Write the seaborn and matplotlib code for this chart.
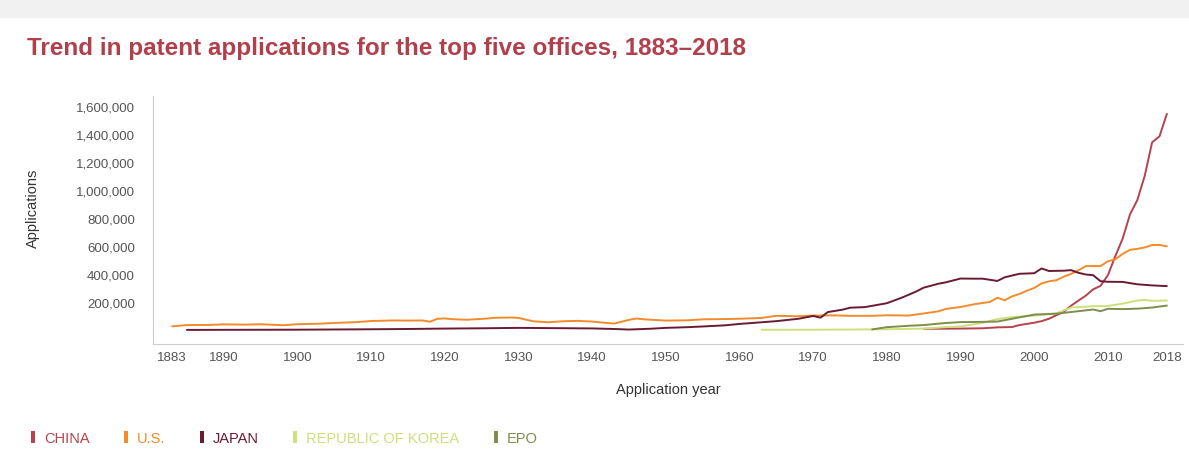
import matplotlib
matplotlib.use("Agg")
import matplotlib.pyplot as plt
import seaborn as sns
import pandas as pd
from matplotlib.lines import Line2D
from matplotlib.patches import Rectangle
from matplotlib.ticker import FuncFormatter

# values (approximate)
us_years = [1883, 1885, 1888, 1890, 1893, 1895, 1898, 1900, 1903, 1905, 1908, 1910,
            1913, 1915, 1917, 1918, 1919, 1920, 1921, 1923, 1925, 1927, 1929, 1930,
            1932, 1934, 1936, 1938, 1940, 1942, 1943, 1945, 1946, 1947, 1950, 1953,
            1955, 1958, 1960, 1963, 1965, 1968, 1970, 1973, 1975, 1978, 1980, 1983,
            1985, 1987, 1988, 1990, 1992, 1994, 1995, 1996, 1997, 1998, 1999, 2000,
            2001, 2002, 2003, 2004, 2005, 2006, 2007, 2008, 2009, 2010, 2011, 2012,
            2013, 2014, 2015, 2016, 2017, 2018]
us_vals = [26000, 35000, 36000, 40000, 38000, 41000, 34000, 41000, 45000, 50000, 56000, 64000,
           68000, 67000, 68000, 59000, 80000, 82000, 77000, 73000, 79000, 87000, 89000, 86000,
           62000, 55000, 62000, 65000, 60000, 50000, 46000, 72000, 82000, 76000, 67000, 69000,
           76000, 78000, 80000, 86000, 101000, 98000, 103000, 104000, 101000, 101000, 105000, 103000,
           118000, 133000, 150000, 164000, 185000, 200000, 230000, 212000, 240000, 257000, 280000, 300000,
           332000, 347000, 355000, 380000, 400000, 426000, 456000, 456000, 456000, 490000, 504000, 543000,
           572000, 579000, 589000, 606000, 607000, 597000]

japan_years = [1885, 1890, 1895, 1900, 1905, 1910, 1915, 1920, 1925, 1930, 1935, 1940,
               1943, 1945, 1948, 1950, 1953, 1955, 1958, 1960, 1963, 1965, 1968, 1970,
               1971, 1972, 1974, 1975, 1977, 1980, 1982, 1984, 1985, 1987, 1988, 1990,
               1992, 1993, 1995, 1996, 1998, 2000, 2001, 2002, 2004, 2005, 2006, 2007,
               2008, 2009, 2010, 2012, 2014, 2016, 2018]
japan_vals = [400, 1000, 1500, 2000, 3500, 5000, 7000, 10000, 12000, 15000, 13000, 11000,
              7000, 3000, 9000, 15000, 20000, 25000, 33000, 43000, 55000, 63000, 80000, 100000,
              88000, 128000, 145000, 159000, 163000, 191000, 230000, 275000, 302000, 330000, 340000, 367000,
              366000, 366000, 350000, 376000, 401000, 405000, 439000, 421000, 423000, 427000, 408000, 396000,
              391000, 348000, 344000, 343000, 326000, 318000, 313000]

china_years = [1985, 1988, 1990, 1993, 1995, 1997, 1998, 2000, 2001, 2002, 2003, 2004,
               2005, 2006, 2007, 2008, 2009, 2010, 2011, 2012, 2013, 2014, 2015, 2016,
               2017, 2018]
china_vals = [8500, 9000, 10000, 12000, 18700, 21000, 35000, 51900, 63000, 80000, 105000, 130000,
              173000, 210000, 245000, 290000, 315000, 391000, 526000, 652000, 825000, 928000, 1101000, 1339000,
              1382000, 1542000]

korea_years = [1963, 1970, 1975, 1980, 1985, 1988, 1990, 1993, 1995, 1997, 2000, 2003,
               2005, 2008, 2010, 2012, 2014, 2015, 2016, 2018]
korea_vals = [1500, 1800, 3000, 5000, 10000, 20000, 25800, 50000, 78000, 92000, 102000, 119000,
              160000, 170000, 171000, 188000, 210000, 214000, 208000, 210000]

epo_years = [1978, 1980, 1983, 1985, 1988, 1990, 1993, 1995, 1998, 2000, 2003, 2005,
             2008, 2009, 2010, 2012, 2014, 2016, 2018]
epo_vals = [4000, 20000, 30000, 35000, 50000, 56000, 58000, 60000, 90000, 110000, 116000, 128000,
            146000, 134000, 151000, 149000, 152000, 160000, 174000]

offices = ["CHINA", "U.S.", "JAPAN", "REPUBLIC OF KOREA", "EPO"]
colors = ["#b7424f", "#f28b2b", "#6a1b32", "#cde07a", "#7f8d4e"]
xticks = [1883, 1890, 1900, 1910, 1920, 1930, 1940, 1950, 1960, 1970, 1980, 1990, 2000, 2010, 2018]
yticks = [200000, 400000, 600000, 800000, 1000000, 1200000, 1400000, 1600000]

frames = []
for name, yrs, vals in [("CHINA", china_years, china_vals), ("U.S.", us_years, us_vals),
                        ("JAPAN", japan_years, japan_vals),
                        ("REPUBLIC OF KOREA", korea_years, korea_vals),
                        ("EPO", epo_years, epo_vals)]:
    frames.append(pd.DataFrame({"year": yrs, "applications": vals, "office": name}))
df = pd.concat(frames, ignore_index=True)

sns.set_theme(style="white")
plt.rcParams["font.family"] = ["Liberation Sans", "DejaVu Sans"]

fig = plt.figure(figsize=(11.89, 4.64), dpi=100)
fig.patches.append(Rectangle((0, 0.962), 1, 0.04, transform=fig.transFigure,
                             color="#f1f1f1", zorder=-1))
ax = fig.add_axes([0.1287, 0.2565, 0.8663, 0.5345])

palette = dict(zip(offices, colors))
sns.lineplot(data=df, x="year", y="applications", hue="office", hue_order=offices,
             palette=palette, linewidth=1.4, legend=False, ax=ax)

ax.set_xlim(1880.4, 2020.2)
ax.set_ylim(-100000, 1670000)
ax.set_xticks(xticks)
ax.set_yticks(yticks)
ax.yaxis.set_major_formatter(FuncFormatter(lambda v, p: f"{int(v):,}"))
ax.tick_params(axis="y", labelsize=9.5, colors="#555555", length=0, pad=13)
ax.tick_params(axis="x", labelsize=9.5, colors="#555555", length=0, pad=5)
for s in ["top", "right"]:
    ax.spines[s].set_visible(False)
for s in ["left", "bottom"]:
    ax.spines[s].set_color("#cccccc")
    ax.spines[s].set_linewidth(0.8)

ax.set_xlabel("Application year", fontsize=10.5, color="#333333", labelpad=14)
ax.set_ylabel("Applications", fontsize=10.5, color="#333333", labelpad=0)
ax.yaxis.set_label_coords(-0.11, 0.55)

fig.text(0.023, 0.895, "Trend in patent applications for the top five offices, 1883\u20132018",
         fontsize=17.5, fontweight="bold", color="#b0404c", ha="left", va="center")

rect = [(-0.35, -1), (0.35, -1), (0.35, 1), (-0.35, 1), (-0.35, -1)]
handles = [Line2D([], [], linestyle="none", marker=rect, markersize=9,
                  color=c, markeredgewidth=0) for c in colors]
leg = fig.legend(handles, offices, loc="center left", bbox_to_anchor=(0.012, 0.053),
                 ncol=5, frameon=False, fontsize=10.5, handlelength=0.8, handletextpad=0.35,
                 columnspacing=2.1)
for t, c in zip(leg.get_texts(), colors):
    t.set_color(c)

fig.savefig("out.png", dpi=100)
